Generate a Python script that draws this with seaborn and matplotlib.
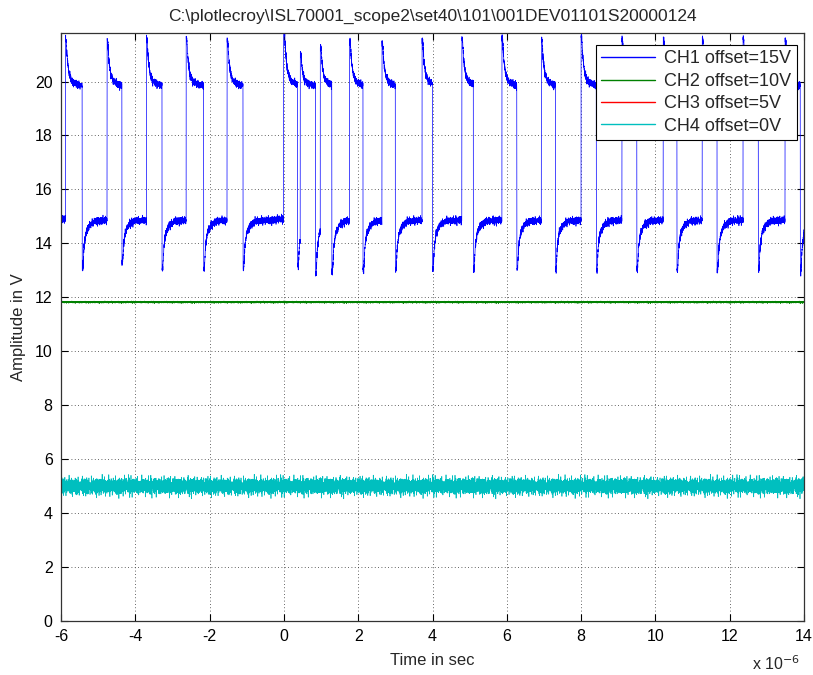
import numpy as np
import pandas as pd
import matplotlib
matplotlib.use("Agg")
import matplotlib.pyplot as plt
import seaborn as sns

# ---- scope capture description (time in microseconds, amplitude in volts) ----
TITLE = r"C:\plotlecroy\ISL70001_scope2\set40\101\001DEV01101S20000124"
CHANNELS = ["CH1 offset=15V", "CH2 offset=10V", "CH3 offset=5V", "CH4 offset=0V"]
COLORS = ["#0000FF", "#008000", "#FF0000", "#00BFBF"]

X_TICKS = [-6, -4, -2, 0, 2, 4, 6, 8, 10, 12, 14]
Y_TICKS = [0, 2, 4, 6, 8, 10, 12, 14, 16, 18, 20]

# CH1 switching node: edge times and per-pulse extremes
RISE_US = [-5.88, -4.76, -3.70, -2.63, -1.53, -0.01, 0.44, 0.98, 1.77, 2.64,
           3.72, 4.79, 5.87, 6.93, 8.00, 9.10, 10.21, 11.26, 12.36, 13.49]
FALL_US = [-5.43, -4.36, -3.28, -2.16, -1.10, 0.37, 0.85, 1.29, 2.13, 3.00,
           4.00, 5.10, 6.27, 7.31, 8.41, 9.50, 10.58, 11.66, 12.77, 13.90]
PEAK_V = [21.60, 21.55, 21.60, 21.60, 21.55, 22.30, 21.05, 21.30, 21.50, 21.45,
          21.55, 21.60, 21.60, 21.60, 21.70, 21.60, 21.60, 21.60, 21.60, 21.60]
DIP_V = [13.05, 13.30, 13.05, 13.05, 13.05, 13.20, 12.90, 12.95, 13.00, 13.00,
         13.05, 13.00, 13.05, 13.05, 13.00, 13.05, 13.00, 13.00, 13.05, 13.00]
CH1_HIGH = 19.82
CH1_LOW = 14.90

# ringing after each edge, as the fraction of overshoot left after dt microseconds
HIGH_DT = [0.0, 0.02, 0.05, 0.10, 0.18, 0.35, 1.50]
HIGH_FRAC = [1.0, 0.95, 0.55, 0.25, 0.10, 0.03, -0.03]
LOW_DT = [0.0, 0.02, 0.05, 0.10, 0.20, 0.35, 1.50]
LOW_FRAC = [1.0, 1.0, 0.55, 0.28, 0.12, 0.04, -0.02]

# DC channels
CH2_LEVEL = 11.82
CH3_LEVEL = 5.00
CH4_LEVEL = 5.00

# sampled scope noise (normalised), two records of coprime length
NOISE_A = [0.31, -0.42, 0.18, -0.07, 0.55, -0.61, 0.12, 0.36, -0.28, -0.49,
           0.44, 0.03, -0.35, 0.62, -0.15, 0.27, -0.53, 0.09, 0.41, -0.22,
           0.95, -0.38, 0.16, -0.04, 0.33, -0.57, 0.21, -0.31, 0.48, -0.12,
           0.06, -0.45, 0.58, -0.26, 0.14, -0.93, 0.37, -0.09, 0.25, -0.51,
           0.43, 0.02, -0.33, 0.19, -0.60, 0.52, -0.18, 0.29, -0.41, 0.10,
           0.35, -0.24, 0.88, -0.47, 0.07, -0.13, 0.46, -0.36, 0.22, -0.55,
           0.39, -0.02, 0.15, -0.29, 0.50, -0.43, 0.26, -1.00, 0.32, -0.16,
           0.04, -0.39, 0.57, -0.21, 0.13, -0.50, 0.40, -0.06, 0.24, -0.34,
           0.60, -0.27, 0.08, 0.30, -0.46, 0.17, -0.11, 0.47, -0.37]
NOISE_B = [0.12, -0.30, 0.45, -0.08, 0.22, -0.40, 0.05, 0.35, -0.18, 0.28,
           -0.50, 0.15, -0.05, 0.40, -0.25, 0.10, -0.35, 0.30, -0.12, 0.20,
           -0.45, 0.02, 0.38]

SAMPLE_US = 0.002
t = np.round(np.arange(-6.0, 14.0 + 1e-9, SAMPLE_US), 4)
n = t.size
k = np.arange(n)
noise = 0.75 * np.asarray(NOISE_A)[k % len(NOISE_A)] + 0.45 * np.asarray(NOISE_B)[k % len(NOISE_B)]


def ch1_trace(time):
    edges = np.array(RISE_US + FALL_US)
    is_rise = np.array([True] * len(RISE_US) + [False] * len(FALL_US))
    extreme = np.array(PEAK_V + DIP_V)
    order = np.argsort(edges)
    edges, is_rise, extreme = edges[order], is_rise[order], extreme[order]
    v = np.full(time.shape, CH1_LOW)
    pos = np.searchsorted(edges, time, side="right") - 1
    ok = pos >= 0
    dt = time[ok] - edges[pos[ok]]
    rise = is_rise[pos[ok]]
    ext = extreme[pos[ok]]
    hi = CH1_HIGH + (ext - CH1_HIGH) * np.interp(dt, HIGH_DT, HIGH_FRAC)
    lo = CH1_LOW + (ext - CH1_LOW) * np.interp(dt, LOW_DT, LOW_FRAC)
    v[ok] = np.where(rise, hi, lo)
    return v


ch1 = ch1_trace(t) + 0.22 * np.roll(noise, 11)
ch2 = CH2_LEVEL + 0.05 * np.roll(noise, 37)
ch3 = CH3_LEVEL + 0.15 * np.roll(noise, 53)
ch4 = CH4_LEVEL + 0.48 * noise

df = pd.DataFrame({
    "time": np.concatenate([t, t, t, t]),
    "amp": np.concatenate([ch1, ch2, ch3, ch4]),
    "channel": np.repeat(CHANNELS, n),
})

sns.set_theme(style="ticks")
plt.rcParams["font.family"] = ["Liberation Sans", "DejaVu Sans"]

fig = plt.figure(figsize=(8.13, 6.75), dpi=100)
ax = fig.add_axes([61 / 813, 1 - 621 / 675, (804 - 61) / 813, (621 - 33) / 675])

sns.lineplot(data=df, x="time", y="amp", hue="channel", hue_order=CHANNELS,
             palette=dict(zip(CHANNELS, COLORS)), estimator=None, sort=False,
             linewidth=0.5, ax=ax, legend=True)

ax.set_xlim(-6, 14)
ax.set_ylim(0, 21.8)
ax.set_xticks(X_TICKS)
ax.set_yticks(Y_TICKS)
ax.set_xticklabels([str(v) for v in X_TICKS])
ax.set_yticklabels([str(v) for v in Y_TICKS])
ax.tick_params(direction="in", length=5, width=0.8, top=True, right=True,
               labelsize=11.5, colors="black", pad=6)
for sp in ax.spines.values():
    sp.set_visible(True)
    sp.set_color("#333333")
    sp.set_linewidth(0.9)
ax.grid(True, color="#333333", linestyle=(0, (1, 3)), linewidth=0.6)
ax.set_axisbelow(True)

ax.set_xlabel("Time in sec", fontsize=12, labelpad=6)
ax.set_ylabel("Amplitude in V", fontsize=12, labelpad=6)
fig.text(432.5 / 813, 1 - 16 / 675, TITLE, ha="center", va="center", fontsize=12.5)
fig.text(800 / 813, 1 - 670 / 675, r"x 10$^{-6}$", ha="right", va="baseline", fontsize=11.5)

handles, labels = ax.get_legend_handles_labels()
leg = ax.legend(handles, labels, loc="upper right", bbox_to_anchor=(0.9906, 0.9796),
                borderaxespad=0, fontsize=13, handlelength=3.0, handletextpad=0.5,
                labelspacing=0.3, borderpad=0.3, frameon=True, fancybox=False,
                framealpha=1)
leg.get_frame().set_edgecolor("black")
leg.get_frame().set_linewidth(0.8)
for line in leg.get_lines():
    line.set_linewidth(1.0)

fig.savefig("out.png", dpi=100, facecolor="white")
